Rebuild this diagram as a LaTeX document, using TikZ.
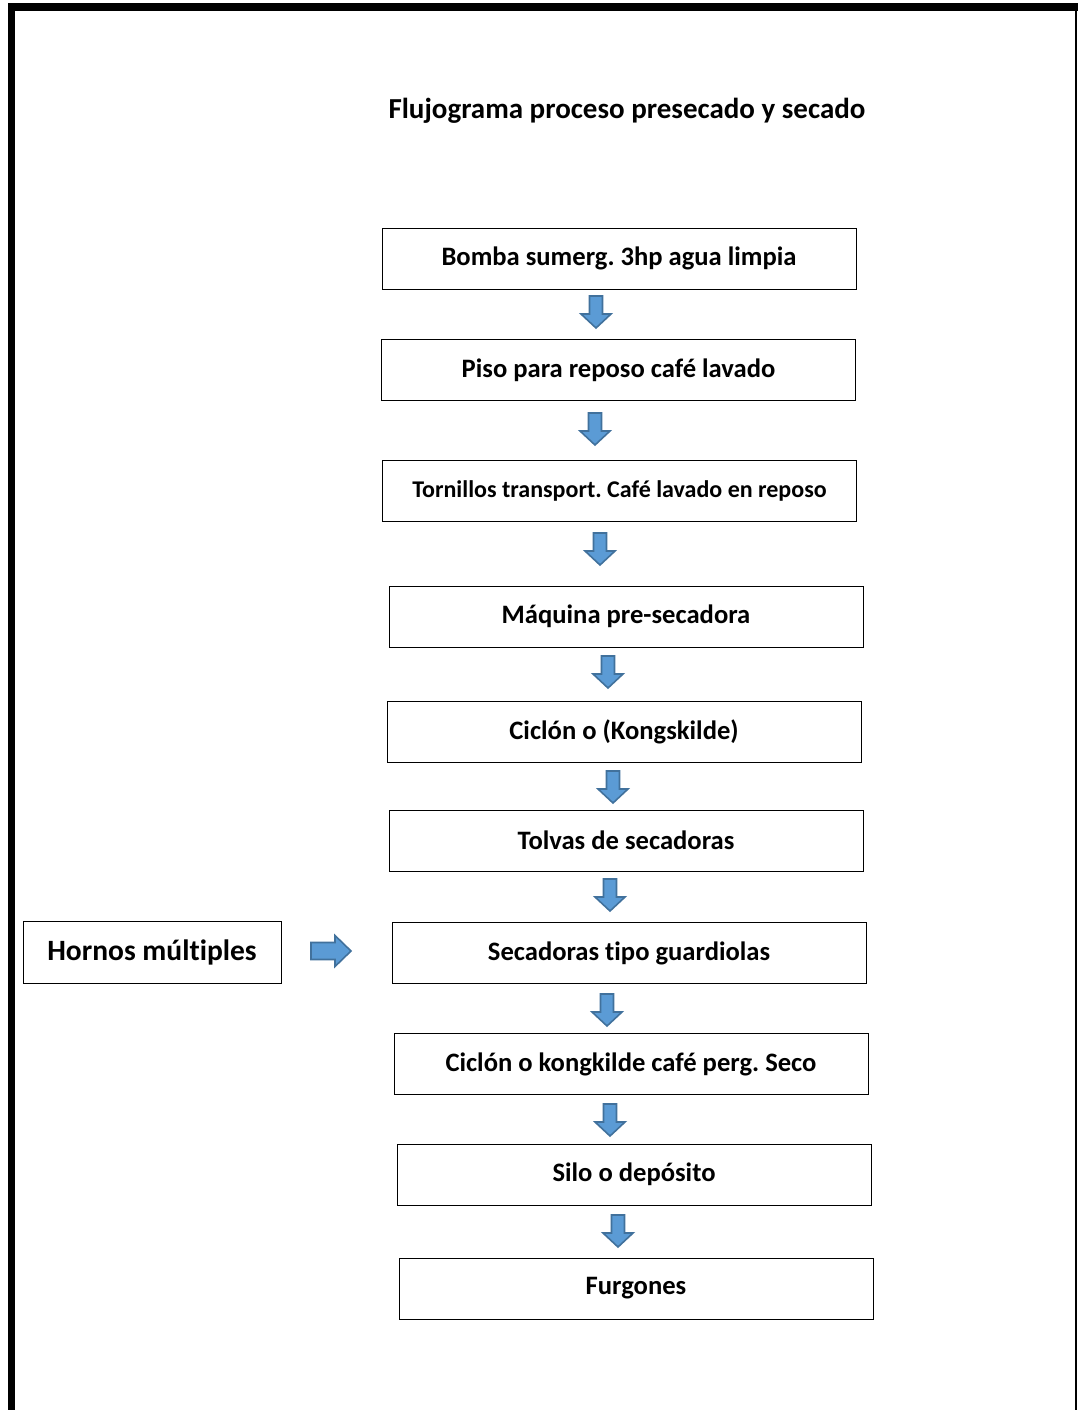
\documentclass[tikz,border=0pt]{standalone}
\usepackage{fontspec}
\setmainfont[Ligatures=NoCommon]{Carlito}
\frenchspacing
\definecolor{arrfill}{HTML}{5B9BD5}
\definecolor{arrline}{HTML}{41719C}
\tikzset{
  x=1pt,y=-1pt,
  procbox/.style={draw=black,line width=1pt,minimum width=474pt,minimum height=61pt,inner sep=0pt,font=\fontsize{26.6}{30}\selectfont\bfseries},
  blockarrow/.style={fill=arrfill,draw=arrline,line width=1.6pt,line join=miter},
}
\newcommand{\downarr}[2]{%
  \draw[blockarrow] (#1-6.5,#2) -- (#1+6.5,#2) -- (#1+6.5,#2+18) -- (#1+15,#2+18) -- (#1,#2+32) -- (#1-15,#2+18) -- (#1-6.5,#2+18) -- cycle;}
\begin{document}
\begin{tikzpicture}
\useasboundingbox (0,0) rectangle (1078,1410);
\fill[white] (0,0) rectangle (1078,1410);
% page frame
\fill[black] (8,3.5) rectangle (1078,11.5);
\fill[black] (8,3.5) rectangle (15,1410);
\draw[black,line width=2pt] (1076,11) -- (1076,1410);
% title
\node[font=\fontsize{29}{34}\selectfont\bfseries] (title) at (627,110.5) {Flujograma proceso presecado y secado};
% boxes
\node[procbox] (b1) at (619,258.5) {Bomba sumerg. 3hp agua limpia};
\node[procbox] (b2) at (618.5,370) {Piso para reposo café lavado};
\node[procbox,font=\fontsize{24}{28}\selectfont\bfseries] (b3) at (619.5,490.5) {Tornillos transport. Café lavado en reposo};
\node[procbox] (b4) at (626,616.5) {Máquina pre-secadora};
\node[procbox] (b5) at (624,731.5) {Ciclón o (Kongskilde)};
\node[procbox] (b6) at (626,840.5) {Tolvas de secadoras};
\node[procbox] (b7) at (629,953) {Secadoras tipo guardiolas};
\node[procbox] (b8) at (631,1064) {Ciclón o kongkilde café perg. Seco};
\node[procbox] (b9) at (634,1174.5) {Silo o depósito};
\node[procbox] (b10) at (636,1288.5) {Furgones};
\node[draw=black,line width=1pt,minimum width=258pt,minimum height=62pt,inner sep=0pt,font=\fontsize{29.5}{34}\selectfont\bfseries] (h) at (152,952) {Hornos múltiples};
% arrows
\downarr{596}{296}
\downarr{595}{413}
\downarr{600}{533}
\downarr{608}{656}
\downarr{613}{771}
\downarr{610}{879}
\downarr{607}{994}
\downarr{610}{1104}
\downarr{618}{1215}
\draw[blockarrow] (311,942.5) -- (335,942.5) -- (335,935.5) -- (351,951) -- (335,966.5) -- (335,959.5) -- (311,959.5) -- cycle;
\end{tikzpicture}
\end{document}
